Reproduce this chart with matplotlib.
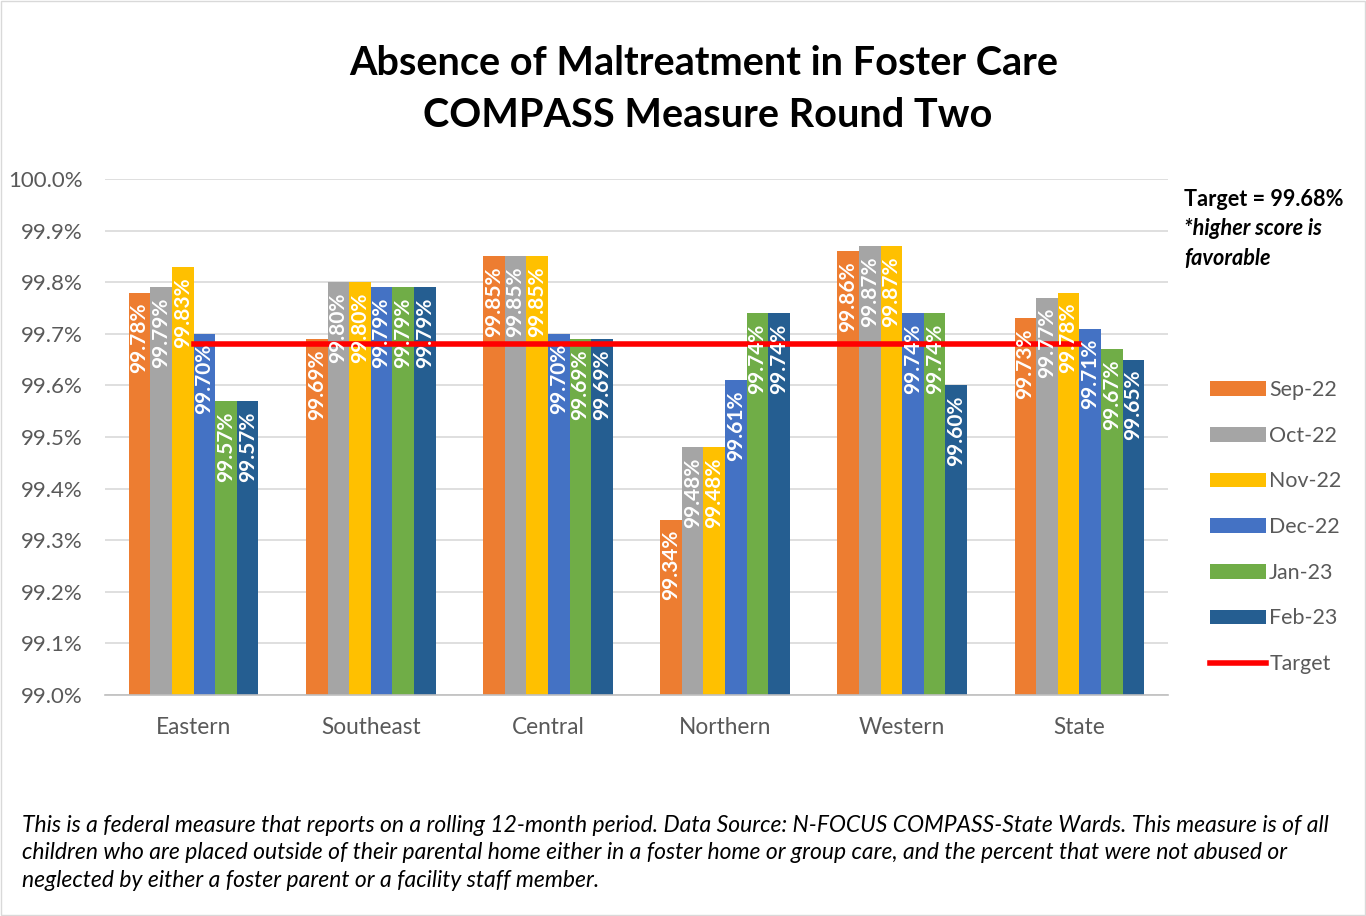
import numpy as np
import matplotlib
matplotlib.use("Agg")
import matplotlib.pyplot as plt
from matplotlib.patches import Rectangle

plt.rcParams['font.family'] = ['Lato', 'DejaVu Sans']

regions = ["Eastern", "Southeast", "Central", "Northern", "Western", "State"]
months = ["Sep-22", "Oct-22", "Nov-22", "Dec-22", "Jan-23", "Feb-23"]
sep22 = [99.78, 99.69, 99.85, 99.34, 99.86, 99.73]
oct22 = [99.79, 99.80, 99.85, 99.48, 99.87, 99.77]
nov22 = [99.83, 99.80, 99.85, 99.48, 99.87, 99.78]
dec22 = [99.70, 99.79, 99.70, 99.61, 99.74, 99.71]
jan23 = [99.57, 99.79, 99.69, 99.74, 99.74, 99.67]
feb23 = [99.57, 99.79, 99.69, 99.74, 99.60, 99.65]
target = 99.68
yticks = [99.0, 99.1, 99.2, 99.3, 99.4, 99.5, 99.6, 99.7, 99.8, 99.9, 100.0]

series = [sep22, oct22, nov22, dec22, jan23, feb23]
colors = ["#ED7D31", "#A5A5A5", "#FFC000", "#4472C4", "#70AD47", "#255E91"]

fig = plt.figure(figsize=(13.66, 9.16), dpi=100)
ax = fig.add_axes([0.0769, 0.2413, 0.7781, 0.5633])

x = np.arange(len(regions))
w = 0.122
handles = []
for i, (vals, c, m) in enumerate(zip(series, colors, months)):
    pos = x + (i - 2.5) * w
    b = ax.bar(pos, np.array(vals) - 99.0, width=w, bottom=99.0, color=c, label=m, zorder=2)
    handles.append(b)
    for p, v in zip(pos, vals):
        ax.text(p, v - 0.02, f"{v:.2f}%", rotation=90, ha="center", va="top",
                color="white", fontsize=15, fontweight="bold", zorder=4)

ln, = ax.plot(x, [target] * len(x), color="#FF0000", linewidth=4, label="Target", zorder=3)
handles.append(ln)

ax.set_xlim(-0.5, 5.5)
ax.set_ylim(99.0, 100.0)
ax.set_yticks(yticks)
ax.set_yticklabels([f"{t:.1f}%" for t in yticks], fontsize=16, color="#595959")
ax.set_xticks(x)
ax.set_xticklabels(regions, fontsize=16.3, color="#595959")
ax.tick_params(axis="y", length=0, pad=16)
ax.tick_params(axis="x", length=0, pad=16)
ax.yaxis.grid(True, color="#D9D9D9", linewidth=1.2, zorder=0)
ax.set_axisbelow(True)
for s in ["top", "right", "left"]:
    ax.spines[s].set_visible(False)
ax.spines["bottom"].set_color("#BFBFBF")
ax.spines["bottom"].set_linewidth(1.2)

fig.legend(handles=handles, labels=months + ["Target"], loc="upper left",
           bbox_to_anchor=(0.872, 0.606), frameon=False, fontsize=15.4,
           handlelength=2.6, handleheight=0.7, labelspacing=1.2,
           handletextpad=0.15, labelcolor="#595959")

fig.text(0.515, 0.931, "Absence of Maltreatment in Foster Care", ha="center", va="center",
         fontsize=28.5, fontweight="bold")
fig.text(0.518, 0.874, "COMPASS Measure Round Two", ha="center", va="center",
         fontsize=28.5, fontweight="bold")

fig.text(0.867, 0.782, "Target = 99.68%", fontsize=15.6, fontweight="bold", va="center")
fig.text(0.867, 0.751, "*higher score is", fontsize=15.6, fontweight="bold", style="italic", va="center")
fig.text(0.867, 0.718, "favorable", fontsize=15.6, fontweight="bold", style="italic", va="center")

foot = ("This is a federal measure that reports on a rolling 12-month period. Data Source: N-FOCUS COMPASS-State Wards. This measure is of all\n"
        "children who are placed outside of their parental home either in a foster home or group care, and the percent that were not abused or\n"
        "neglected by either a foster parent or a facility staff member.")
fig.text(0.016, 0.0688, foot, fontsize=16.5, style="italic", va="center", ha="left", linespacing=1.4)

fig.patches.append(Rectangle((0.001, 0.001), 0.998, 0.998, transform=fig.transFigure,
                             fill=False, edgecolor="#D9D9D9", linewidth=1))

fig.savefig("out.png", dpi=100)
